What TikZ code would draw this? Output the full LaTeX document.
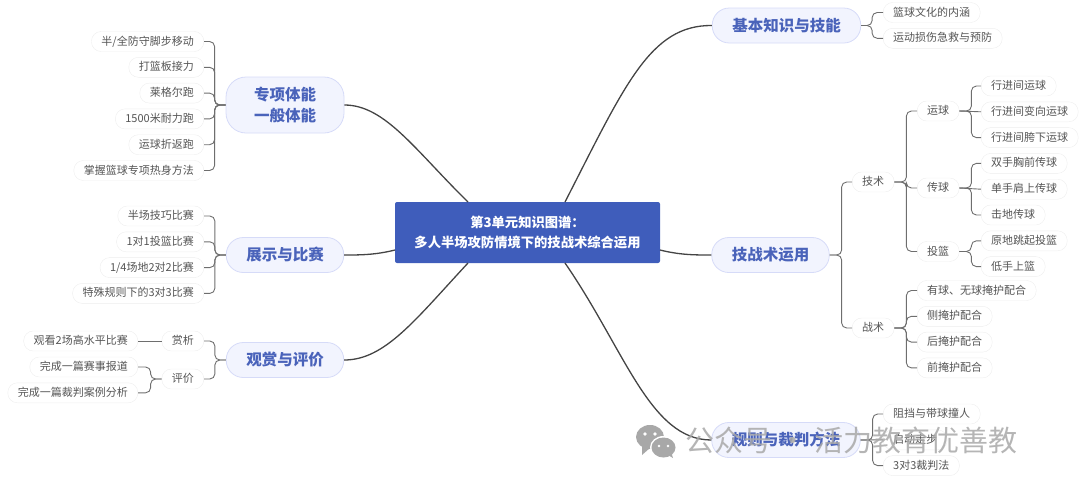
\documentclass[tikz,border=0pt]{standalone}
\usepackage{fontspec}
\setmainfont{Noto Sans CJK SC}
\usepackage{xcolor}
\usetikzlibrary{positioning,calc}
\definecolor{rootblue}{HTML}{3F5DBB}
\definecolor{topicink}{HTML}{4A63BA}
\definecolor{topicbg}{HTML}{F2F4FE}
\definecolor{topicrule}{HTML}{D6DBF8}
\definecolor{leafink}{HTML}{555555}
\definecolor{leafrule}{HTML}{EEEEEE}
\definecolor{twigline}{HTML}{6E6E6E}
\definecolor{trunkline}{HTML}{444444}
\definecolor{markgray}{HTML}{A8A8A8}

\begin{document}
\begin{tikzpicture}[
  x=1pt,y=-1pt,
  root/.style={fill=rootblue,rounded corners=2pt,minimum width=265pt,minimum height=61pt,
               inner sep=0pt,align=center,text=white,font=\fontsize{13.3}{20}\selectfont\bfseries},
  topic/.style={draw=topicrule,fill=topicbg,rounded corners=17pt,minimum height=35pt,thick,
                inner xsep=20pt,inner ysep=0pt,align=center,text=topicink,
                font=\fontsize{15.5}{21}\selectfont\bfseries},
  leaf/.style={draw=leafrule,fill=white,rounded corners=9.5pt,minimum height=20pt,
               inner xsep=10pt,inner ysep=0pt,text height=8.5pt,text depth=1.5pt,
               text=leafink,font=\fontsize{11}{13}\selectfont},
  nextl/.style={below=5.4pt of #1.south east,anchor=north east},
  nextr/.style={below=5.4pt of #1.south west,anchor=north west},
  trunk/.style={draw=trunkline,line width=1.3pt},
  twig/.style={draw=twigline,line width=.9pt,rounded corners=5pt}
]
\useasboundingbox (0,0) rectangle (1080,485);

% centre
\node[root] (root) at (527.5,232.5) {第3单元知识图谱：\\多人半场攻防情境下的技战术综合运用};
\coordinate (rootnw) at (468,202);
\coordinate (rootne) at (565,202);
\coordinate (rootsw) at (468,263);
\coordinate (rootse) at (565,263);
\coordinate (rootw) at (395,250);
\coordinate (roote) at (660,250);

% main topics
\node[topic,minimum width=118pt,rounded corners=20pt,minimum height=56pt,inner xsep=0pt] (zx) at (285,105) {专项体能\\一般体能};
\node[topic] (zs) at (285,255) {展示与比赛};
\node[topic] (gs) at (285,360) {观赏与评价};
\node[topic] (jb) at (786.5,25.5) {基本知识与技能};
\node[topic] (jz) at (770.5,255) {技战术运用};
\node[topic] (gz) at (786,440) {规则与裁判方法};

\draw[trunk] (rootnw) .. controls (415,150) and (385,105) .. (zx.east);
\draw[trunk] (rootw) .. controls (375,255) and (360,255) .. (zs.east);
\draw[trunk] (rootsw) .. controls (415,320) and (385,360) .. (gs.east);
\draw[trunk] (rootne) .. controls (625,85) and (650,25) .. (jb.west);
\draw[trunk] (roote) .. controls (680,255) and (695,255) .. (jz.west);
\draw[trunk] (rootse) .. controls (625,350) and (650,440) .. (gz.west);

% left, fitness
\node[leaf,anchor=east] (zx1) at (204,41.5) {半/全防守脚步移动};
\node[leaf,nextl=zx1] (zx2) {打篮板接力};
\node[leaf,nextl=zx2] (zx3) {莱格尔跑};
\node[leaf,nextl=zx3] (zx4) {1500米耐力跑};
\node[leaf,nextl=zx4] (zx5) {运球折返跑};
\node[leaf,nextl=zx5] (zx6) {掌握篮球专项热身方法};
\draw[twig] (zx.west) -- ++(-11,0) |- (zx1.east);
\draw[twig] (zx.west) -- ++(-11,0) |- (zx2.east);
\draw[twig] (zx.west) -- ++(-11,0) |- (zx3.east);
\draw[twig] (zx.west) -- ++(-11,0) |- (zx4.east);
\draw[twig] (zx.west) -- ++(-11,0) |- (zx5.east);
\draw[twig] (zx.west) -- ++(-11,0) |- (zx6.east);

% left, matches
\node[leaf,anchor=east] (zs1) at (204,216) {半场技巧比赛};
\node[leaf,nextl=zs1] (zs2) {1对1投篮比赛};
\node[leaf,nextl=zs2] (zs3) {1/4场地2对2比赛};
\node[leaf,nextl=zs3] (zs4) {特殊规则下的3对3比赛};
\draw[twig] (zs.west) -- ++(-11,0) |- (zs1.east);
\draw[twig] (zs.west) -- ++(-11,0) |- (zs2.east);
\draw[twig] (zs.west) -- ++(-11,0) |- (zs3.east);
\draw[twig] (zs.west) -- ++(-11,0) |- (zs4.east);

% left, watching
\node[leaf,anchor=east] (gs1) at (204,341) {赏析};
\node[leaf,anchor=east] (gs2) at (204,379) {评价};
\node[leaf,anchor=east] (gk) at (138,341) {观看2场高水平比赛};
\node[leaf,anchor=east] (wc1) at (138,367) {完成一篇赛事报道};
\node[leaf,nextl=wc1] (wc2) {完成一篇裁判案例分析};
\draw[twig] (gs.west) -- ++(-11,0) |- (gs1.east);
\draw[twig] (gs.west) -- ++(-11,0) |- (gs2.east);
\draw[twig] (gs1) -- (gk);
\draw[twig] (gs2.west) -- ++(-11,0) |- (wc1.east);
\draw[twig] (gs2.west) -- ++(-11,0) |- (wc2.east);

% right, basics
\node[leaf,anchor=west] (jb1) at (883,12.5) {篮球文化的内涵};
\node[leaf,nextr=jb1] (jb2) {运动损伤急救与预防};
\draw[twig] (jb.east) -- ++(11,0) |- (jb1.west);
\draw[twig] (jb.east) -- ++(11,0) |- (jb2.west);

% right, skills and tactics
\node[leaf,anchor=west] (js) at (852,182) {技术};
\node[leaf,anchor=west] (zh) at (852,328) {战术};
\draw[twig] (jz.east) -- ++(12,0) |- (js.west);
\draw[twig] (jz.east) -- ++(12,0) |- (zh.west);
\node[leaf,anchor=west] (yq) at (917,111) {运球};
\node[leaf,anchor=west] (cq) at (917,188) {传球};
\node[leaf,anchor=west] (tl) at (917,251.5) {投篮};
\draw[twig] (js.east) -- ++(12,0) |- (yq.west);
\draw[twig] (js.east) -- ++(12,0) |- (cq.west);
\draw[twig] (js.east) -- ++(12,0) |- (tl.west);

\node[leaf,anchor=west] (yq1) at (981,86) {行进间运球};
\node[leaf,nextr=yq1] (yq2) {行进间变向运球};
\node[leaf,nextr=yq2] (yq3) {行进间胯下运球};
\node[leaf,nextr=yq3] (cq1) {双手胸前传球};
\node[leaf,nextr=cq1] (cq2) {单手肩上传球};
\node[leaf,nextr=cq2] (cq3) {击地传球};
\node[leaf,nextr=cq3] (tl1) {原地跳起投篮};
\node[leaf,nextr=tl1] (tl2) {低手上篮};
\draw[twig] (yq.east) -- ++(12,0) |- (yq1.west);
\draw[twig] (yq.east) -- (yq2.west);
\draw[twig] (yq.east) -- ++(12,0) |- (yq3.west);
\draw[twig] (cq.east) -- ++(12,0) |- (cq1.west);
\draw[twig] (cq.east) -- (cq2.west);
\draw[twig] (cq.east) -- ++(12,0) |- (cq3.west);
\draw[twig] (tl.east) -- ++(12,0) |- (tl1.west);
\draw[twig] (tl.east) -- ++(12,0) |- (tl2.west);

\node[leaf,anchor=west] (zh1) at (917,290.5) {有球、无球掩护配合};
\node[leaf,nextr=zh1] (zh2) {侧掩护配合};
\node[leaf,nextr=zh2] (zh3) {后掩护配合};
\node[leaf,nextr=zh3] (zh4) {前掩护配合};
\draw[twig] (zh.east) -- ++(12,0) |- (zh1.west);
\draw[twig] (zh.east) -- ++(12,0) |- (zh2.west);
\draw[twig] (zh.east) -- ++(12,0) |- (zh3.west);
\draw[twig] (zh.east) -- ++(12,0) |- (zh4.west);

% right, rules
\node[leaf,anchor=west] (gz1) at (883,414) {阻挡与带球撞人};
\node[leaf,nextr=gz1] (gz2) {启动走步};
\node[leaf,nextr=gz2] (gz3) {3对3裁判法};
\draw[twig] (gz.east) -- ++(12,0) |- (gz1.west);
\draw[twig] (gz.east) -- (gz2.west);
\draw[twig] (gz.east) -- ++(12,0) |- (gz3.west);

% watermark over everything
\fill[markgray] (650,437) ellipse [x radius=14pt,y radius=12pt];
\fill[markgray] (642,446) -- (642,455) -- (650,448) -- cycle;
\fill[white] (663.5,447.5) ellipse [x radius=13.5pt,y radius=11.5pt];
\fill[markgray] (663.5,447.5) ellipse [x radius=12pt,y radius=10pt];
\fill[markgray] (668,455) -- (673,458) -- (671,452) -- cycle;
\fill[white] (645,434) circle (1.8pt) (655,434) circle (1.8pt) (659,446) circle (1.4pt) (668,446) circle (1.4pt);
\node[anchor=west,inner sep=0pt,text=markgray,opacity=.85,font=\fontsize{29}{31}\selectfont] (mark) at (685,440) {公众号 · 活力教育优善教};
\end{tikzpicture}
\end{document}
